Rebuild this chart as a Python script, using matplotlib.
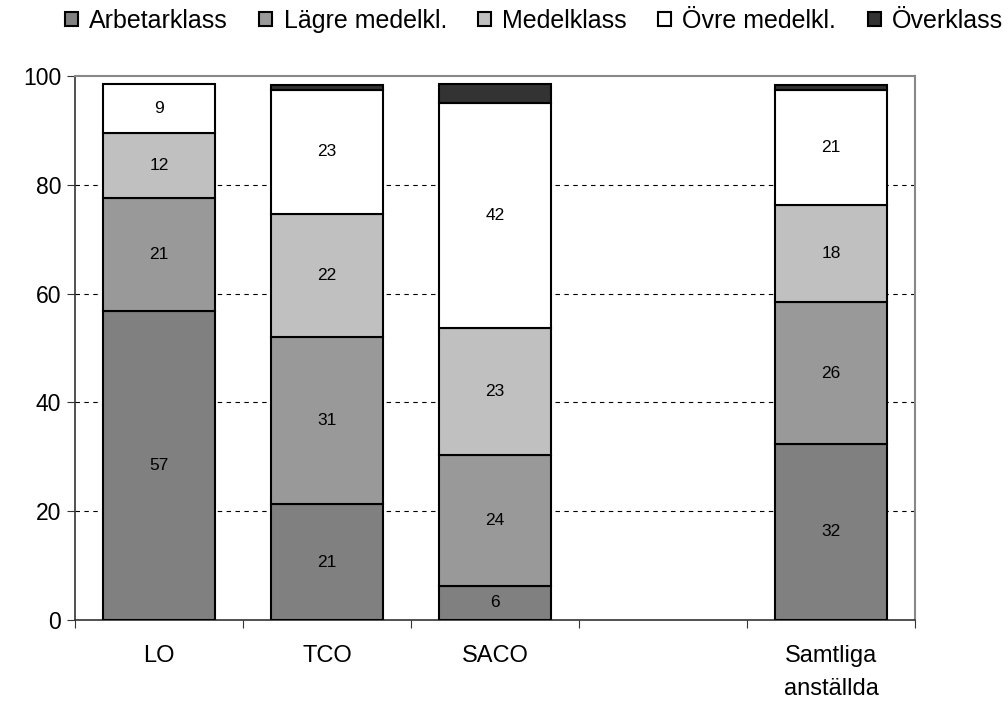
import matplotlib
matplotlib.use("Agg")
import matplotlib.pyplot as plt
import numpy as np

plt.rcParams['font.family'] = ['Liberation Sans', 'DejaVu Sans']

categories = ["LO", "TCO", "SACO", "", "Samtliga\nanställda"]
series_names = ["Arbetarklass", "Lägre medelkl.", "Medelklass", "Övre medelkl.", "Överklass"]
arbetarklass = [56.8, 21.3, 6.3, 0, 32.4]
lagre_medelkl = [20.8, 30.8, 24.0, 0, 26.0]
medelklass = [12.0, 22.6, 23.3, 0, 17.8]
ovre_medelkl = [8.9, 22.7, 41.5, 0, 21.2]
overklass = [0.0, 1.0, 3.4, 0, 1.0]
labels = [
    ["57", "21", "6", "", "32"],
    ["21", "31", "24", "", "26"],
    ["12", "22", "23", "", "18"],
    ["9", "23", "42", "", "21"],
    ["", "", "", "", ""],
]
colors = ["#808080", "#999999", "#c0c0c0", "#ffffff", "#333333"]

fig = plt.figure(figsize=(10.08, 7.06), dpi=100)
ax = fig.add_axes([0.0744, 0.1218, 0.8333, 0.7706])

x = np.arange(len(categories))
series = [arbetarklass, lagre_medelkl, medelklass, ovre_medelkl, overklass]
bottom = np.zeros(len(categories))
for i, (vals, col, name) in enumerate(zip(series, colors, series_names)):
    vals = np.array(vals, dtype=float)
    lws = [1.5 if v > 0 else 0 for v in vals]
    bars = ax.bar(x, vals, width=0.667, bottom=bottom, color=col,
                  edgecolor="black", linewidth=lws, label=name, zorder=3)
    for j, b in enumerate(bars):
        if vals[j] > 0 and labels[i][j]:
            ax.text(x[j], bottom[j] + vals[j] / 2, labels[i][j], ha="center",
                    va="center", fontsize=12.5, zorder=4)
    bottom += vals

ax.set_xlim(-0.5, len(categories) - 0.5)
ax.set_ylim(0, 100)
ax.set_yticks([0, 20, 40, 60, 80, 100])
ax.set_xticks(np.arange(-0.5, len(categories)), minor=False)
ax.set_xticklabels([])
ax.set_xticks(x, minor=True)
ax.set_xticklabels(categories, minor=True, fontsize=17, linespacing=1.65)
ax.tick_params(axis="x", which="minor", length=0, pad=18)
ax.tick_params(axis="x", which="major", length=6, direction="out", color="#333333")
ax.tick_params(axis="y", labelsize=16.5, length=6, direction="out", color="#333333", pad=4)

for yv in [20, 40, 60, 80]:
    ax.axhline(yv, color="black", linestyle=(0, (4, 4)), linewidth=0.8, zorder=1)

ax.spines["left"].set_color("#333333")
ax.spines["bottom"].set_color("#333333")
ax.spines["left"].set_linewidth(1.2)
ax.spines["bottom"].set_linewidth(1.2)
ax.spines["top"].set_color("#888888")
ax.spines["right"].set_color("#888888")
ax.spines["top"].set_linewidth(1.5)
ax.spines["right"].set_linewidth(1.5)

leg = fig.legend(loc="center right", bbox_to_anchor=(1003 / 1008, 1 - 21 / 706), ncol=5,
                 frameon=False, fontsize=18, handlelength=0.52, handleheight=0.52,
                 handletextpad=0.45, columnspacing=1.25, borderaxespad=0, borderpad=0)
for h in leg.legend_handles:
    h.set_linewidth(1.5)

fig.savefig("out.png", dpi=100)
